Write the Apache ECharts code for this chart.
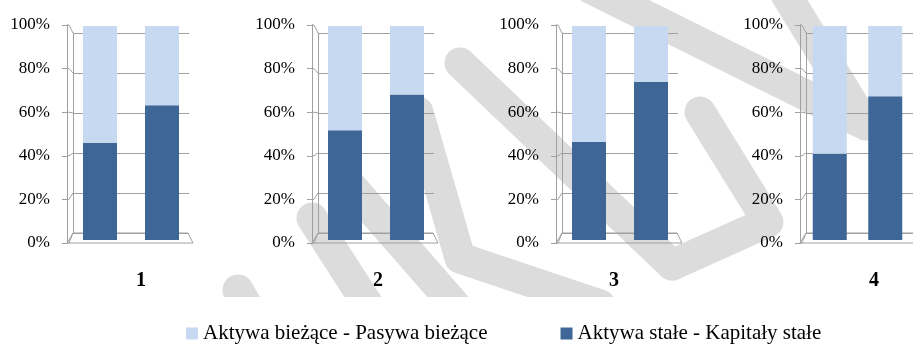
<!DOCTYPE html>
<html>
<head>
<meta charset="utf-8">
<script src="https://cdn.jsdelivr.net/npm/echarts@6/dist/echarts.min.js"></script>
<style>
html,body{margin:0;padding:0;background:#fff;}
#chart{width:913px;height:347px;}
</style>
</head>
<body>
<div id="chart"></div>
<script>
// ---- data ----
const panels = ['1', '2', '3', '4'];
// first bar / second bar of each panel: "Aktywa stałe - Kapitały stałe" (bottom, dark)
const fixedFirst  = [45.4, 51.3, 45.9, 40.3];
const fixedSecond = [63.0, 68.0, 73.9, 67.2];
// "Aktywa bieżące - Pasywa bieżące" (top, light)
const currentFirst  = [54.6, 48.7, 54.1, 59.7];
const currentSecond = [37.0, 32.0, 26.1, 32.8];
const yTickLabels = ['0%', '20%', '40%', '60%', '80%', '100%'];
const seriesNames = ['Aktywa bieżące - Pasywa bieżące', 'Aktywa stałe - Kapitały stałe'];

// ---- layout / style ----
const FONT = "'Liberation Serif','Times New Roman',serif";
const AXIS_X = [67, 312, 556, 800];
const CAT_X = [141, 378, 614, 874];
const GRAY = '#a0a0a0';
const DARK = '#3e6797';
const LIGHT = '#c6d9f0';
const WM = '#dcdcdc';

const grids = [], xAxes = [], yAxes = [], series = [], elements = [];

// watermark (decoration behind the chart)
const wmStrokes = [
  [[312,218],[368,305]],
  [[238,290],[258,325]],
  [[350,185],[455,305]],
  [[418,112],[460,258],[600,305]],
  [[460,63],[672,265]],
  [[590,-12],[866,125],[782,-12]],
  [[700,112],[768,222],[672,265]]
];
wmStrokes.forEach(pts => elements.push({
  type: 'polyline', z: -5, silent: true,
  shape: { points: pts },
  style: { stroke: WM, lineWidth: 31, fill: null, lineCap: 'round', lineJoin: 'round' }
}));
elements.push({ type: 'rect', z: -4, silent: true, shape: { x: 0, y: 297, width: 913, height: 60 }, style: { fill: '#fff' } });

panels.forEach((p, i) => {
  const ax = AXIS_X[i];
  // back wall grid (gridlines)
  grids.push({ left: ax + 6, top: 33, width: 116, height: 200 });
  xAxes.push({ gridIndex: 3*i, type: 'category', data: ['', ''], show: false });
  yAxes.push({ gridIndex: 3*i, type: 'value', min: 0, max: 100, interval: 20,
    axisLabel: { show: false }, axisTick: { show: false },
    axisLine: { show: true, lineStyle: { color: GRAY } },
    splitLine: { show: true, lineStyle: { color: GRAY, width: 1 } } });
  // bars grid
  grids.push({ left: ax + 2, top: 26, width: 124, height: 214 });
  xAxes.push({ gridIndex: 3*i+1, type: 'category', data: ['a', 'b'], show: false });
  yAxes.push({ gridIndex: 3*i+1, type: 'value', min: 0, max: 100, show: false });
  // front axis with labels
  grids.push({ left: ax, top: 25, width: 1, height: 218 });
  xAxes.push({ gridIndex: 3*i+2, type: 'category', data: [''], show: false });
  yAxes.push({ gridIndex: 3*i+2, type: 'value', min: 0, max: 100, interval: 20,
    axisLine: { show: true, lineStyle: { color: GRAY } },
    axisTick: { show: true, length: 5, lineStyle: { color: GRAY } },
    splitLine: { show: false },
    axisLabel: { margin: 17, color: '#000', fontSize: 17, fontFamily: FONT,
      formatter: v => yTickLabels[Math.round(v / 20)] } });

  series.push({ name: seriesNames[1], type: 'bar', stack: 's' + i, xAxisIndex: 3*i+1, yAxisIndex: 3*i+1,
    barWidth: 34, itemStyle: { color: DARK }, data: [fixedFirst[i], fixedSecond[i]] });
  series.push({ name: seriesNames[0], type: 'bar', stack: 's' + i, xAxisIndex: 3*i+1, yAxisIndex: 3*i+1,
    barWidth: 34, itemStyle: { color: LIGHT }, data: [currentFirst[i], currentSecond[i]] });

  // 3D-look decorations: floor and connectors
  elements.push({ type: 'polygon', z: 1, silent: true,
    shape: { points: [[ax, 243], [ax + 126, 243], [ax + 121, 233], [ax + 6, 233]] },
    style: { fill: 'rgba(0,0,0,0)', stroke: GRAY, lineWidth: 1 } });
  for (let k = 0; k <= 5; k++) {
    const yF = 25 + k * 218 / 5, yB = 33 + k * 40;
    elements.push({ type: 'polyline', z: 1, silent: true,
      shape: { points: [[ax, yF], [ax + 2, yF], [ax + 6, yB]] },
      style: { stroke: GRAY, lineWidth: 1, fill: null } });
  }
  // panel category label
  elements.push({ type: 'text', z: 5, x: CAT_X[i], y: 281, silent: true,
    style: { text: p, fontSize: 20, fontWeight: 'bold', fontFamily: FONT, fill: '#000',
      align: 'center', verticalAlign: 'middle', textAlign: 'center', textVerticalAlign: 'middle' } });
});

const chart = echarts.init(document.getElementById('chart'));
chart.setOption({
  animation: false,
  backgroundColor: '#fff',
  grid: grids, xAxis: xAxes, yAxis: yAxes, series: series,
  legend: {
    data: seriesNames, left: 186, top: 323, padding: 0,
    itemWidth: 12, itemHeight: 12, itemGap: 73, icon: 'rect',
    textStyle: { fontSize: 21, fontFamily: FONT, color: '#000' }
  },
  graphic: { elements: elements }
});
</script>
</body>
</html>
